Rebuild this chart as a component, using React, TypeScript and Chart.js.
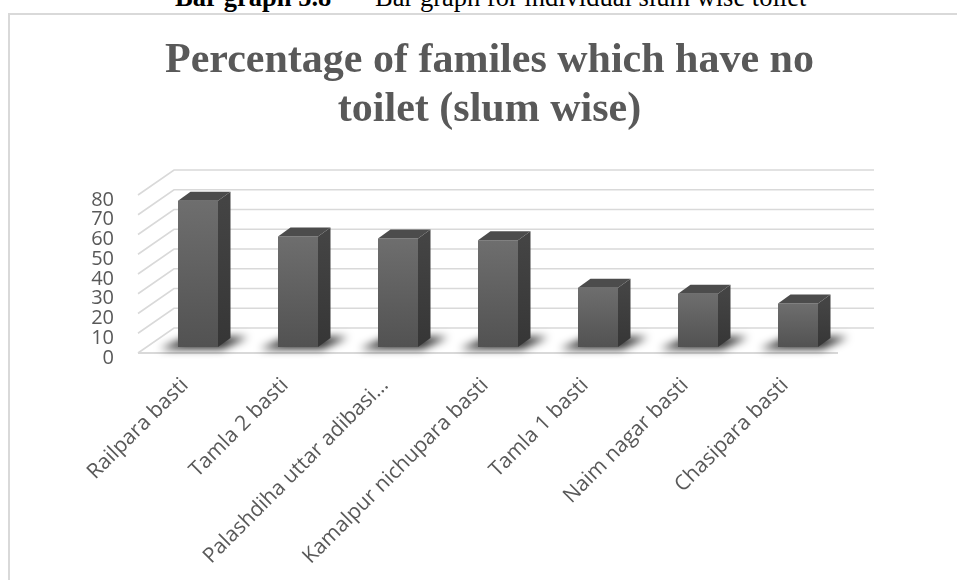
import React, { useEffect, useRef } from "react";
import { Chart, registerables } from "chart.js";

Chart.register(...registerables);

const categories = [
  "Railpara basti",
  "Tamla 2 basti",
  "Palashdiha uttar adibasi…",
  "Kamalpur nichupara basti",
  "Tamla 1 basti",
  "Naim nagar basti",
  "Chasipara basti",
];
const percentNoToilet = [74, 56, 55, 54, 30, 27, 22];
const yTicks = [0, 10, 20, 30, 40, 50, 60, 70, 80];
const chartTitle = ["Percentage of familes which have no", "toilet (slum wise)"];
const captionBold = "Bar graph 5.8";
const captionText = "Bar graph for individual slum wise toilet";

// 3D offsets (pixels) relative to the bar plane
const FRONT_DX = -10;
const FRONT_DY = 6;
const BACK_DX = 26;
const BACK_DY = -19;
const BAR_DX = 12.5;
const BAR_DY = -9;

const GRID = "#d9d9d9";
const TEXT = "#595959";

const walls3d = {
  id: "walls3d",
  beforeDatasetsDraw(chart: any) {
    const { ctx, chartArea: a, scales } = chart;
    const y = scales.y;
    ctx.save();
    ctx.strokeStyle = GRID;
    ctx.lineWidth = 1.6;
    yTicks.forEach((v) => {
      const py = y.getPixelForValue(v);
      ctx.beginPath();
      ctx.moveTo(a.left + FRONT_DX, py + FRONT_DY);
      ctx.lineTo(a.left + BACK_DX, py + BACK_DY);
      ctx.lineTo(a.right + BACK_DX, py + BACK_DY);
      ctx.stroke();
    });
    // front floor edge
    const p0 = y.getPixelForValue(0);
    ctx.lineWidth = 2.2;
    ctx.beginPath();
    ctx.moveTo(a.left + FRONT_DX, p0 + FRONT_DY);
    ctx.lineTo(a.right + FRONT_DX, p0 + FRONT_DY);
    ctx.stroke();

    // soft shadows on the floor
    const meta = chart.getDatasetMeta(0);
    ctx.filter = "blur(4px)";
    ctx.fillStyle = "rgba(0,0,0,0.85)";
    meta.data.forEach((el: any) => {
      const xl = el.x - el.width / 2;
      const xr = el.x + el.width / 2;
      const b = el.base;
      ctx.beginPath();
      ctx.moveTo(xl - 18, b + 2);
      ctx.lineTo(xr + 4, b + 2);
      ctx.lineTo(xr + 30, b - 10);
      ctx.lineTo(xl + 10, b - 10);
      ctx.closePath();
      ctx.fill();
    });
    ctx.filter = "none";
    ctx.restore();
  },
  afterDatasetsDraw(chart: any) {
    const { ctx } = chart;
    const meta = chart.getDatasetMeta(0);
    ctx.save();
    meta.data.forEach((el: any) => {
      const xl = el.x - el.width / 2;
      const xr = el.x + el.width / 2;
      const top = el.y;
      const b = el.base;
      // side face
      const gs = ctx.createLinearGradient(0, top, 0, b);
      gs.addColorStop(0, "#444444");
      gs.addColorStop(1, "#363636");
      ctx.fillStyle = gs;
      ctx.beginPath();
      ctx.moveTo(xr, top);
      ctx.lineTo(xr + BAR_DX, top + BAR_DY);
      ctx.lineTo(xr + BAR_DX, b + BAR_DY);
      ctx.lineTo(xr, b);
      ctx.closePath();
      ctx.fill();
      // top face
      ctx.fillStyle = "#4c4c4c";
      ctx.beginPath();
      ctx.moveTo(xl, top);
      ctx.lineTo(xl + BAR_DX, top + BAR_DY);
      ctx.lineTo(xr + BAR_DX, top + BAR_DY);
      ctx.lineTo(xr, top);
      ctx.closePath();
      ctx.fill();
    });
    ctx.restore();
  },
};

export default function App() {
  const ref = useRef<HTMLCanvasElement | null>(null);

  useEffect(() => {
    if (!ref.current) return;
    const chart = new Chart(ref.current, {
      type: "bar",
      data: {
        labels: categories,
        datasets: [
          {
            data: percentNoToilet,
            barPercentage: 0.4,
            categoryPercentage: 1,
            borderWidth: 0,
            backgroundColor: (c: any) => {
              const ch = c.chart;
              if (!ch.chartArea || c.type !== "data") return "#5e5e5e";
              const ys = ch.scales.y;
              const t = ys.getPixelForValue(c.raw);
              const b = ys.getPixelForValue(0);
              const g = ch.ctx.createLinearGradient(0, t, 0, b);
              g.addColorStop(0, "#6e6e6e");
              g.addColorStop(1, "#525252");
              return g;
            },
          },
        ],
      },
      options: {
        responsive: false,
        animation: false,
        devicePixelRatio: 1,
        layout: { padding: { left: 22, right: 0, top: 0, bottom: 0 } },
        plugins: {
          legend: { display: false },
          tooltip: { enabled: false },
          title: {
            display: true,
            text: chartTitle,
            color: TEXT,
            font: {
              family: '"Liberation Serif", "Times New Roman", serif',
              size: 42,
              weight: "bold",
              lineHeight: 49 / 42,
            },
            padding: { top: 37, bottom: 54 },
          },
        },
        scales: {
          x: {
            grid: { display: false, drawTicks: false },
            border: { display: false },
            ticks: {
              color: TEXT,
              font: { family: '"Open Sans", sans-serif', size: 21 },
              padding: 26,
              labelOffset: -13,
              minRotation: 45,
              maxRotation: 45,
              autoSkip: false,
            },
            afterFit: (s: any) => {
              s.height = 233;
            },
          },
          y: {
            min: 0,
            max: 80,
            grid: { display: false, drawTicks: false },
            border: { display: false },
            ticks: {
              stepSize: 10,
              autoSkip: false,
              color: TEXT,
              font: { family: '"Open Sans", sans-serif', size: 20 },
              padding: 34,
              labelOffset: 11,
            },
            afterFit: (s: any) => {
              s.width = 126;
            },
          },
          ySpacer: {
            type: "linear",
            position: "right",
            display: true,
            grid: { display: false, drawTicks: false },
            border: { display: false },
            ticks: { display: false },
            afterFit: (s: any) => {
              s.width = 109;
            },
          },
        },
      },
      plugins: [walls3d],
    });
    return () => chart.destroy();
  }, []);

  return (
    <div
      style={{
        position: "absolute",
        left: 0,
        top: 0,
        width: 957,
        height: 580,
        overflow: "hidden",
        background: "#ffffff",
      }}
    >
      <div
        style={{
          position: "absolute",
          left: 8,
          top: 13,
          width: 1000,
          height: 1000,
          border: `2px solid ${GRID}`,
        }}
      />
      <span
        style={{
          position: "absolute",
          left: 175,
          top: -16,
          font: 'bold 26.5px "Liberation Serif", "Times New Roman", serif',
          lineHeight: 1,
          whiteSpace: "nowrap",
          color: "#000",
        }}
      >
        {captionBold}
      </span>
      <span
        style={{
          position: "absolute",
          left: 375,
          top: -16,
          font: '26.5px "Liberation Serif", "Times New Roman", serif',
          lineHeight: 1,
          whiteSpace: "nowrap",
          color: "#000",
        }}
      >
        {captionText}
      </span>
      <canvas
        ref={ref}
        width={957}
        height={580}
        style={{ position: "absolute", left: 0, top: 0, width: 957, height: 580 }}
      />
    </div>
  );
}
